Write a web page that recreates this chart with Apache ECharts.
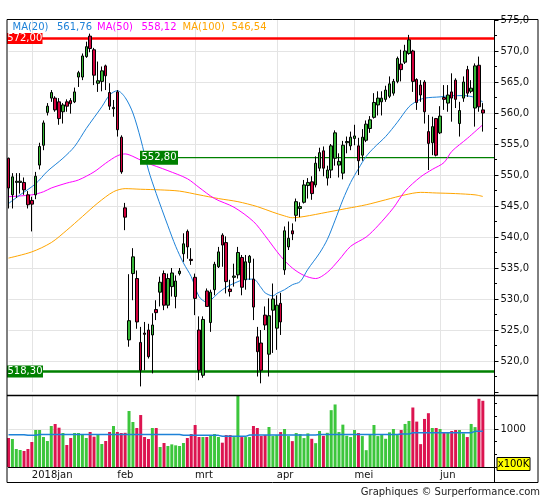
<!DOCTYPE html>
<html><head><meta charset="utf-8">
<script src="https://cdn.jsdelivr.net/npm/echarts@6.0.0/dist/echarts.min.js"></script>
<style>html,body{margin:0;padding:0;background:#fff;}#c{width:545px;height:500px;}</style>
</head><body><div id="c"></div>
<script>
// ---- trading days (Dec 2017 - Jun 2018) ----
const daysDec = [20,21,22,27,28,29];
const daysJan = [2,3,4,5,8,9,10,11,12,15,16,17,18,19,22,23,24,25,26,29,30,31];
const daysFeb = [1,2,5,6,7,8,9,12,13,14,15,16,19,20,21,22,23,26,27,28];
const daysMar = [1,2,5,6,7,8,9,12,13,14,15,16,19,20,21,22,23,26,27,28,29];
const daysApr = [3,4,5,6,9,10,11,12,13,16,17,18,19,20,23,24,25,26,27,30];
const daysMay = [2,3,4,7,8,9,10,11,14,15,16,17,18,21,22,23,24,25,28,29,30,31];
const daysJun = [1,4,5,6,7,8,11,12,13,14,15,18,19,20,21];
const monthKeys = ['2018-01','2018-02','2018-03','2018-04','2018-05','2018-06'];
const monthNames = ['2018jan','feb','mrt','apr','mei','jun'];

// ---- prices ----
const open = [552.7,546.8,548.8,548.8,548.8,546.8,545.9,546.8,551.6,554.8,
560.1,562.4,562.4,561.8,560.2,561.8,562.0,561.8,565.8,565.8,
569.1,572.4,570.2,564.8,565.1,567.6,563.3,560.7,563.4,556.1,
544.7,523.4,534.1,533.3,523.0,524.5,525.0,524.2,528.3,531.1,
534.1,529.0,532.0,530.4,534.1,537.3,540.9,536.4,533.5,525.0,
517.7,531.3,526.2,531.5,535.2,540.3,539.1,531.6,533.5,533.9,
536.7,533.1,535.9,533.2,523.9,522.9,527.4,521.1,528.2,525.3,
529.3,534.7,538.4,541.0,543.5,544.6,545.6,548.3,548.9,548.4,
551.1,553.9,549.5,550.8,552.7,551.6,550.3,555.2,554.7,555.9,
554.7,553.2,555.6,557.5,559.3,561.3,561.8,562.2,562.7,563.2,
565.1,567.9,568.2,569.6,570.0,565.4,564.5,565.0,557.0,555.2,
559.1,556.8,562.5,561.6,563.4,565.3,558.3,562.4,567.0,563.5,
560.8,567.7,560.5];
const close = [547.9,549.7,549.0,549.0,547.6,545.2,545.3,549.8,554.6,558.4,
561.1,563.3,560.5,559.1,561.3,561.1,561.5,563.4,566.5,569.2,
570.7,570.4,566.1,565.2,566.8,566.0,561.1,560.9,557.3,550.5,
543.2,526.5,536.8,526.3,518.5,524.3,520.7,525.8,527.8,532.7,
529.0,533.3,534.2,532.9,534.5,538.9,538.4,536.2,530.1,518.5,
526.7,528.8,531.1,535.6,537.6,538.7,532.8,531.2,533.7,537.5,
531.9,536.0,536.9,528.7,521.5,518.5,525.8,527.3,530.0,529.0,
526.3,541.0,539.8,540.5,545.7,544.9,548.4,548.8,547.0,551.9,
553.6,551.1,550.8,554.7,556.8,552.2,554.8,555.4,556.1,556.3,
552.3,556.1,558.2,558.9,561.7,562.4,562.4,563.7,564.7,565.1,
568.8,567.0,570.0,571.8,565.1,561.7,562.9,560.2,555.1,557.8,
553.2,559.5,562.2,562.9,562.4,562.2,560.4,565.0,563.2,564.0,
567.6,561.0,560.0];
const low = [544.6,544.6,546.3,547.0,546.8,544.6,540.9,546.1,550.9,554.0,
559.6,561.8,560.2,558.1,558.3,560.2,559.9,561.6,564.2,565.3,
568.9,569.8,564.5,563.4,563.5,563.7,560.5,559.4,556.2,550.2,
541.1,522.3,529.8,525.2,515.9,518.5,520.4,518.0,526.6,528.8,
528.2,528.5,530.4,528.5,533.8,536.0,536.5,535.5,527.4,516.9,
517.3,528.8,524.7,530.6,535.0,535.2,530.9,530.4,532.0,533.3,
530.6,531.5,533.1,526.6,517.5,516.4,525.0,517.5,521.3,521.8,
524.2,533.9,537.9,539.5,542.5,543.2,545.4,546.2,546.0,548.0,
550.6,549.8,548.3,549.5,551.5,549.6,549.3,553.5,554.0,554.8,
550.0,552.3,555.3,556.8,559.1,559.6,559.6,561.8,562.4,562.8,
564.8,565.1,567.9,569.4,563.4,560.5,561.8,558.3,550.8,553.2,
553.0,556.6,560.5,560.2,558.6,560.8,556.2,561.8,562.6,563.2,
557.8,560.2,557.0];
const high = [552.8,550.3,550.3,550.3,549.6,547.4,546.5,550.5,555.2,558.8,
561.6,563.7,562.7,562.4,561.6,562.2,562.4,564.1,566.8,569.6,
571.5,572.8,570.5,568.3,567.5,567.8,564.8,562.1,563.7,556.4,
545.5,534.0,538.2,534.6,525.5,526.3,526.0,527.7,529.8,533.6,
534.6,534.1,535.0,533.8,535.0,540.6,541.2,538.2,534.1,527.2,
527.2,531.7,531.5,536.0,538.4,540.6,540.1,533.1,535.7,538.4,
537.1,537.1,537.1,536.5,525.5,525.0,528.8,530.1,532.5,530.6,
531.0,541.7,542.5,542.2,546.2,545.6,549.2,549.5,549.8,553.0,
554.4,554.6,551.5,555.0,557.2,553.5,555.5,556.2,557.0,558.1,
556.0,557.4,558.8,559.5,563.2,563.5,563.5,564.4,565.9,565.5,
569.1,570.2,571.0,572.6,570.2,565.6,565.3,565.3,559.7,559.4,
559.2,561.1,564.5,564.5,566.4,565.6,561.8,565.9,567.6,565.3,
568.0,569.1,561.6];

// ---- volume (x100K) ----
const volume = [763,737,474,447,421,474,658,974,974,789,
684,1079,1132,1035,895,579,763,895,895,851,
763,921,798,851,605,684,921,1079,921,895,
900,1474,1184,1026,1368,789,737,1026,1026,526,
632,553,596,570,553,632,763,868,1105,789,
789,789,833,868,789,640,841,841,788,1880,
788,788,788,1080,1027,815,841,1053,815,841,
920,1000,814,681,894,867,761,885,743,628,
947,820,900,1496,1646,920,1115,823,788,973,
894,814,443,841,1106,814,841,743,912,1000,
841,973,1133,1212,1566,1195,602,1265,1416,1027,
1027,1000,894,920,947,973,973,885,788,1133,
1050,1796,1743];
// volume average: [firstIndex, lastIndex, value]
const volAvgSegments = [[0,4,851],[5,7,833],[8,44,858],[45,54,833],[55,61,807],[62,79,841],[80,100,858],[101,103,867],[104,119,903],[120,122,938]];

// ---- moving averages: [candle index (0-based), value] ----
const ma20 = [[0,545.4],[3,546.8],[7,548.6],[10,550.6],[14,552.7],[17,554.6],[20,557.5],[24,561.0],[26,562.9],[28,563.6],[30,562.5],[32,560.0],[34,555.8],[36,550.8],[38,547.0],[41,541.8],[43,538.5],[45,535.8],[47,533.6],[49,530.4],[51,529.5],[52,529.8],[54,531.0],[56,531.9],[59,532.8],[61,533.2],[63,533.2],[65,531.8],[66,531.0],[68,530.5],[69,530.9],[71,531.5],[73,532.3],[75,532.8],[77,534.8],[80,537.4],[82,539.6],[84,542.7],[86,546.0],[88,548.8],[90,551.0],[92,553.0],[94,554.4],[97,556.2],[100,558.5],[103,561.0],[105,561.9],[107,562.4],[111,562.6],[114,562.8],[117,562.8],[120,562.5],[122,561.76]];
const ma50 = [[0,546.5],[6,546.8],[9,547.3],[11,547.9],[15,548.7],[18,549.2],[22,550.5],[25,551.9],[28,553.1],[30,553.4],[32,553.0],[35,552.1],[41,550.7],[46,549.4],[49,548.0],[53,546.2],[58,544.8],[63,542.5],[66,540.2],[70,536.9],[73,535.0],[76,533.8],[79,533.3],[82,534.3],[85,536.3],[88,538.5],[92,540.0],[95,541.8],[99,544.7],[102,547.4],[106,549.7],[109,550.9],[112,552.0],[114,553.8],[118,555.9],[122,558.12]];
const ma100 = [[0,536.6],[6,537.6],[11,539.1],[15,541.1],[19,543.3],[23,545.5],[27,547.3],[30,547.8],[34,547.7],[39,547.6],[44,547.4],[49,546.8],[54,546.2],[59,545.7],[64,544.9],[68,544.0],[71,543.4],[73,543.1],[76,543.3],[82,544.0],[87,544.6],[92,545.2],[97,546.0],[102,546.8],[106,547.2],[110,547.1],[115,547.0],[120,546.8],[122,546.54]];
const legendNames = ['MA(20)','MA(50)','MA(100)'];
const legendValues = ['561,76','558,12','546,54'];

// ---- horizontal levels ----
const levels = [572.00, 552.80, 518.30];

// ===== build =====
const pad2 = n => (n < 10 ? '0' : '') + n;
const dates = [].concat(
  daysDec.map(d => '2017-12-' + pad2(d)),
  daysJan.map(d => '2018-01-' + pad2(d)),
  daysFeb.map(d => '2018-02-' + pad2(d)),
  daysMar.map(d => '2018-03-' + pad2(d)),
  daysApr.map(d => '2018-04-' + pad2(d)),
  daysMay.map(d => '2018-05-' + pad2(d)),
  daysJun.map(d => '2018-06-' + pad2(d))
);
const monthStart = {};
monthKeys.forEach((k, m) => {
  const i = dates.findIndex(d => d.indexOf(k) === 0);
  monthStart[i] = monthNames[m];
});
const isMonthStart = (i) => monthStart[i] !== undefined;

const GREEN = '#36b636', RED = '#d2003c';
const VGREEN = '#3cc63c', VRED = '#dc1450';
const BLUE = '#1e82d8', MAG = '#ff00ff', ORA = '#ffa500';
const GRID = '#e4e4e4';
const FONT = 'DejaVu Sans';

const ohlc = open.map((o, i) => [o, close[i], low[i], high[i]]);
const volData = volume.map((v, i) => ({ value: v, itemStyle: { color: close[i] >= open[i] ? VGREEN : VRED } }));
const volAvg = volume.map(() => null);
volAvgSegments.forEach(s => { for (let i = s[0]; i <= s[1]; i++) volAvg[i] = s[2]; });

const fmt1 = v => v.toFixed(1).replace('.', ',');
const fmt2 = v => v.toFixed(2).replace('.', ',');

const chart = echarts.init(document.getElementById('c'), null, { renderer: 'canvas' });
const gridLeft = 8.5, gridRight = 50.5;

const option = {
  animation: false,
  backgroundColor: '#fff',
  textStyle: { fontFamily: FONT },
  grid: [
    { left: gridLeft, right: gridRight, top: 20, height: 372 },
    { left: gridLeft, right: gridRight, top: 395.5, height: 71.5 }
  ],
  xAxis: [
    { type: 'category', gridIndex: 0, data: dates, boundaryGap: false,
      axisLine: { show: false }, axisTick: { show: false }, axisLabel: { show: false },
      splitLine: { show: true, interval: (i) => isMonthStart(i), lineStyle: { color: GRID, width: 1 } } },
    { type: 'category', gridIndex: 1, data: dates, boundaryGap: false,
      axisLine: { show: true, lineStyle: { color: '#000', width: 1 } }, axisTick: { show: false },
      axisLabel: { show: true, interval: (i) => isMonthStart(i), formatter: (v, i) => monthStart[i] || '',
        align: 'left', margin: 3, fontSize: 10, color: '#111', fontFamily: FONT },
      splitLine: { show: true, interval: (i) => isMonthStart(i), lineStyle: { color: GRID, width: 1 } } }
  ],
  yAxis: [
    { type: 'value', gridIndex: 0, position: 'right', min: 515, max: 575, interval: 5, scale: true,
      axisLine: { show: true, lineStyle: { color: '#000', width: 1 } },
      axisTick: { show: true, length: 4, lineStyle: { color: '#000' } },
      minorTick: { show: true, splitNumber: 2, length: 2.5, lineStyle: { color: '#000' } },
      axisLabel: { margin: 6, fontSize: 10, color: '#111', fontFamily: FONT, formatter: fmt1, showMinLabel: false },
      splitLine: { show: true, showMinLine: false, showMaxLine: false, lineStyle: { color: GRID, width: 1 } } },
    { type: 'value', gridIndex: 1, position: 'right', min: 0, max: 1882, interval: 1000,
      axisLine: { show: true, lineStyle: { color: '#000', width: 1 } },
      axisTick: { show: true, length: 4, lineStyle: { color: '#000' } },
      minorTick: { show: true, splitNumber: 3, length: 2.5, lineStyle: { color: '#000' } },
      axisLabel: { margin: 6, fontSize: 10, color: '#111', fontFamily: FONT, showMinLabel: false, showMaxLabel: false,
        formatter: v => (v === 1000 ? '1000' : '') },
      splitLine: { show: true, showMinLine: false, showMaxLine: false, lineStyle: { color: GRID, width: 1 } } }
  ],
  series: [
    { type: 'line', name: 'MA(100)', xAxisIndex: 0, yAxisIndex: 0, data: ma100, showSymbol: false, symbol: 'none',
      smooth: 0.3, lineStyle: { color: ORA, width: 1 }, z: 2, silent: true },
    { type: 'line', name: 'MA(50)', xAxisIndex: 0, yAxisIndex: 0, data: ma50, showSymbol: false, symbol: 'none',
      smooth: 0.3, lineStyle: { color: MAG, width: 1 }, z: 2, silent: true },
    { type: 'line', name: 'MA(20)', xAxisIndex: 0, yAxisIndex: 0, data: ma20, showSymbol: false, symbol: 'none',
      smooth: 0.3, lineStyle: { color: BLUE, width: 1 }, z: 2, silent: true },
    { type: 'candlestick', xAxisIndex: 0, yAxisIndex: 0, data: ohlc, barWidth: 3, z: 4,
      itemStyle: { color: GREEN, color0: RED, borderColor: '#000', borderColor0: '#000', borderWidth: 1 } },
    { type: 'bar', xAxisIndex: 1, yAxisIndex: 1, data: volData, barWidth: 3, z: 2 },
    { type: 'line', xAxisIndex: 1, yAxisIndex: 1, data: volAvg, step: 'middle', showSymbol: false, symbol: 'none',
      lineStyle: { color: BLUE, width: 1.5 }, z: 3, silent: true }
  ]
};
chart.setOption(option);

// ----- overlays positioned through the chart's own scales -----
const yPix = v => chart.convertToPixel({ yAxisIndex: 0 }, v);
const plotL = 7, plotR = 494.5, frameR = 538, frameT = 19.5, frameB = 482.5, sepY = 395.5;
const lvlColors = ['#ff0000', '#008000', '#008000'];
const lvlWidths = [2.5, 1.2, 2.5];
const lvlBoxX = [7, 140, 7];
const lvlBoxW = [35.5, 38, 36];
const lvlBoxH = [11, 14, 12];
const g = [];
levels.forEach((lv, k) => {
  const y = yPix(lv);
  const boxR = lvlBoxX[k] + lvlBoxW[k];
  g.push({ type: 'line', z: 1, silent: true,
    shape: { x1: k === 1 ? boxR : plotL, y1: y, x2: plotR, y2: y },
    style: { stroke: lvlColors[k], lineWidth: lvlWidths[k] } });
  g.push({ type: 'rect', z: 20, silent: true,
    shape: { x: lvlBoxX[k], y: y - lvlBoxH[k] / 2, width: lvlBoxW[k], height: lvlBoxH[k] },
    style: { fill: lvlColors[k] } });
  g.push({ type: 'text', z: 21, silent: true, x: lvlBoxX[k] + lvlBoxW[k] / 2, y: y,
    style: { text: fmt2(lv), fill: '#fff', font: '10px "DejaVu Sans"', textAlign: 'center', textVerticalAlign: 'middle' } });
});
// legend texts
const legColors = [BLUE, MAG, ORA];
const legNameX = [12.5, 97, 182.5];
const legValX = [57, 141.5, 231.5];
legendNames.forEach((n, k) => {
  g.push({ type: 'text', z: 30, silent: true, x: legNameX[k], y: 27,
    style: { text: n, fill: legColors[k], font: '10px "DejaVu Sans"', textVerticalAlign: 'middle' } });
  g.push({ type: 'text', z: 30, silent: true, x: legValX[k], y: 27,
    style: { text: legendValues[k], fill: legColors[k], font: '10px "DejaVu Sans"', textVerticalAlign: 'middle' } });
});
// frame
g.push({ type: 'rect', z: 40, silent: true, shape: { x: plotL, y: frameT, width: frameR - plotL, height: frameB - frameT },
  style: { fill: 'none', stroke: '#000', lineWidth: 1 } });
g.push({ type: 'line', z: 40, silent: true, shape: { x1: plotR, y1: frameT, x2: plotR, y2: frameB }, style: { stroke: '#000', lineWidth: 1 } });
g.push({ type: 'line', z: 40, silent: true, shape: { x1: plotL, y1: sepY, x2: frameR, y2: sepY }, style: { stroke: '#000', lineWidth: 1.5 } });
// volume unit box
g.push({ type: 'rect', z: 41, silent: true, shape: { x: 497, y: 457.5, width: 33, height: 13 },
  style: { fill: '#ffff00', stroke: '#000', lineWidth: 1 } });
g.push({ type: 'text', z: 42, silent: true, x: 513.5, y: 464,
  style: { text: 'x100K', fill: '#000', font: '10px "DejaVu Sans"', textAlign: 'center', textVerticalAlign: 'middle' } });
// footer
g.push({ type: 'text', z: 42, silent: true, x: 540, y: 492,
  style: { text: 'Graphiques \u00A9 Surperformance.com', fill: '#222', font: '10px "DejaVu Sans"', textAlign: 'right', textVerticalAlign: 'middle' } });

chart.setOption({ graphic: g });
</script>
</body></html>
